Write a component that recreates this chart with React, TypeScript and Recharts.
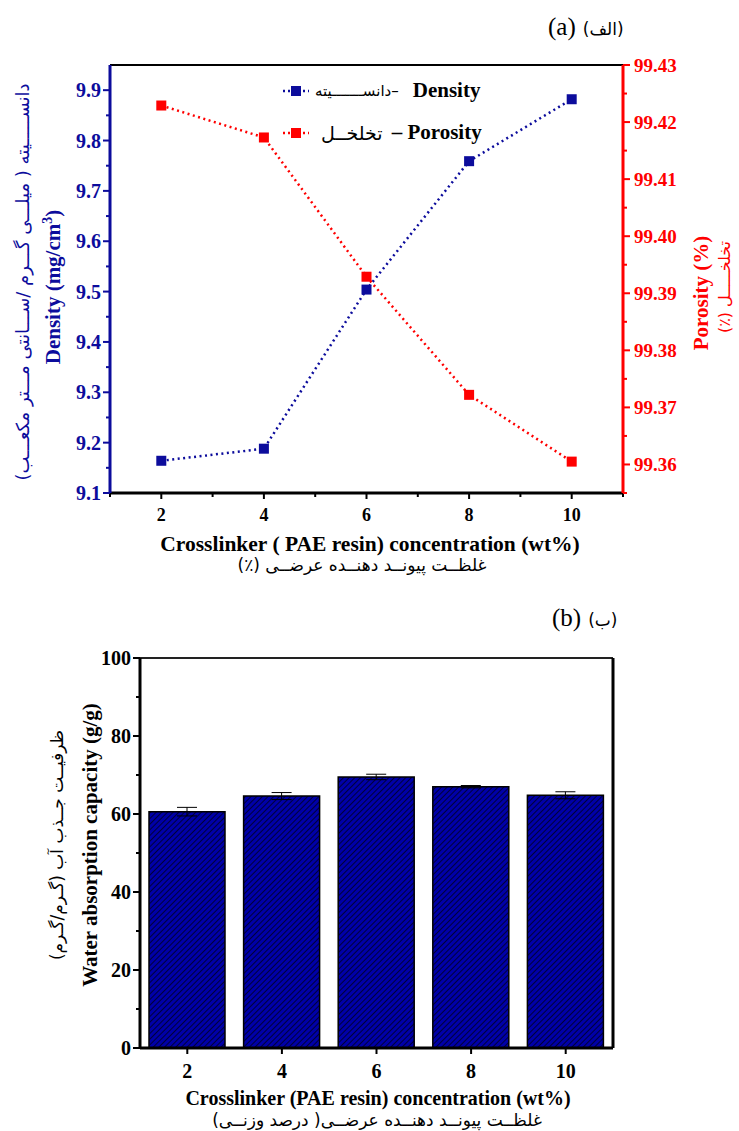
import React from "react";
import {
  Bar,
  BarChart,
  ComposedChart,
  ErrorBar,
  Line,
  ReferenceLine,
  XAxis,
  YAxis,
} from "recharts";

// crosslinker (PAE resin) concentration, wt%
const crosslinker = [2, 4, 6, 8, 10];
const density = [9.164, 9.188, 9.504, 9.759, 9.882];
const porosity = [99.4229, 99.4173, 99.3929, 99.3722, 99.3605];
const waterAbsorption = [60.6, 64.6, 69.5, 67.0, 64.8];
const waterError = [1.1, 0.9, 0.7, 0.3, 0.9];

const xMajor = [2, 4, 6, 8, 10];
const xTicks = [1, 2, 3, 4, 5, 6, 7, 8, 9, 10, 11];
const densityMajor = [9.1, 9.2, 9.3, 9.4, 9.5, 9.6, 9.7, 9.8, 9.9];
const densityTicks = [9.1, 9.15, 9.2, 9.25, 9.3, 9.35, 9.4, 9.45, 9.5, 9.55, 9.6, 9.65, 9.7, 9.75, 9.8, 9.85, 9.9];
const porosityMajor = [99.36, 99.37, 99.38, 99.39, 99.4, 99.41, 99.42, 99.43];
const porosityTicks = [
  99.355, 99.36, 99.365, 99.37, 99.375, 99.38, 99.385, 99.39, 99.395, 99.4, 99.405, 99.41, 99.415, 99.42,
  99.425, 99.43,
];
const waterMajor = [0, 20, 40, 60, 80, 100];
const waterTicks = [0, 10, 20, 30, 40, 50, 60, 70, 80, 90, 100];

const BLUE = "#0c0c9c";
const RED = "#ff0000";
const SERIF = '"Liberation Serif", "DejaVu Sans", serif';
const PERSIAN = '"DejaVu Sans", "Liberation Serif", serif';

const lineData = crosslinker.map((x, i) => ({ x, density: density[i], porosity: porosity[i] }));
const barData = crosslinker.map((x, i) => ({ label: String(x), value: waterAbsorption[i], err: waterError[i] }));

type TickOpts = {
  side: "left" | "right" | "bottom";
  major: (number | string)[] | null;
  color: string;
  fontSize: number;
  format?: (v: number) => string;
  majorLen?: number;
  minorLen?: number;
  gap?: number;
};

const makeTick = (o: TickOpts) => (props: any) => {
  const { x, y, payload } = props;
  const isMajor = o.major === null || o.major.includes(payload.value);
  const len = isMajor ? o.majorLen ?? 7 : o.minorLen ?? 4;
  const gap = o.gap ?? 5;
  const text = isMajor ? (o.format ? o.format(payload.value) : String(payload.value)) : "";
  const common = { fill: o.color, fontSize: o.fontSize, fontWeight: 700, fontFamily: SERIF };
  if (o.side === "left") {
    return (
      <g>
        <line x1={x} x2={x - len} y1={y} y2={y} stroke={o.color} strokeWidth={2} />
        {text && (
          <text x={x - (o.majorLen ?? 7) - gap} y={y} dy="0.35em" textAnchor="end" {...common}>
            {text}
          </text>
        )}
      </g>
    );
  }
  if (o.side === "right") {
    return (
      <g>
        <line x1={x} x2={x + len} y1={y} y2={y} stroke={o.color} strokeWidth={2} />
        {text && (
          <text x={x + (o.majorLen ?? 7) + gap} y={y} dy="0.35em" textAnchor="start" {...common}>
            {text}
          </text>
        )}
      </g>
    );
  }
  return (
    <g>
      <line x1={x} x2={x} y1={y} y2={y + len} stroke={o.color} strokeWidth={2} />
      {text && (
        <text x={x} y={y + (o.majorLen ?? 7) + gap} dy="0.8em" textAnchor="middle" {...common}>
          {text}
        </text>
      )}
    </g>
  );
};

const squareDot = (color: string) => (props: any) => {
  const { cx, cy, index } = props;
  if (cx == null || cy == null) return <g key={index} />;
  return <rect key={index} x={cx - 5} y={cy - 5} width={10} height={10} fill={color} />;
};

const abs = (left: number, top: number, extra: React.CSSProperties = {}): React.CSSProperties => ({
  position: "absolute",
  left,
  top,
  whiteSpace: "nowrap",
  ...extra,
});

type TextProps = { cx: number; cy: number; children: React.ReactNode; style: React.CSSProperties; rtl?: boolean };

const Rotated = ({ cx, cy, children, style, rtl }: TextProps) => (
  <div dir={rtl ? "rtl" : "ltr"} style={abs(cx, cy, { transform: "translate(-50%, -50%) rotate(-90deg)", ...style })}>
    {children}
  </div>
);

const Centered = ({ cx, cy, children, style, rtl }: TextProps) => (
  <div dir={rtl ? "rtl" : "ltr"} style={abs(cx, cy, { transform: "translate(-50%, -50%)", ...style })}>
    {children}
  </div>
);

const LegendSwatch = ({ color }: { color: string }) => (
  <svg width={30} height={12} style={{ display: "block" }}>
    <line x1={2} x2={28} y1={6} y2={6} stroke={color} strokeWidth={2.5} strokeDasharray="2 3" />
    <rect x={10} y={1} width={10} height={10} fill={color} />
  </svg>
);

export default function App() {
  return (
    <div style={{ position: "absolute", left: 0, top: 0, width: 739, height: 1131, background: "#fff" }}>
      <svg width={0} height={0} style={{ position: "absolute" }}>
        <defs>
          <pattern id="hatch" patternUnits="userSpaceOnUse" width={4} height={4} patternTransform="rotate(45)">
            <rect width={4} height={4} fill="#0000a8" />
            <line x1={0} y1={0} x2={0} y2={4} stroke="#000" strokeWidth={1.3} />
          </pattern>
        </defs>
      </svg>

      {/* (a) density / porosity */}
      <div style={abs(0, 0)}>
        <ComposedChart width={739} height={600} data={lineData} margin={{ top: 65, right: 0, bottom: 0, left: 0 }}>
          <XAxis
            dataKey="x"
            type="number"
            domain={[1, 11]}
            ticks={xTicks}
            interval={0}
            height={107}
            tickSize={0}
            tickMargin={0}
            tickLine={false}
            axisLine={{ stroke: "#000", strokeWidth: 3 }}
            tick={makeTick({ side: "bottom", major: xMajor, color: "#000", fontSize: 18, majorLen: 6, minorLen: 4, gap: 8 })}
          />
          <YAxis
            yAxisId="left"
            type="number"
            domain={[9.1, 9.95]}
            ticks={densityTicks}
            interval={0}
            width={110}
            tickSize={0}
            tickMargin={0}
            tickLine={false}
            axisLine={{ stroke: BLUE, strokeWidth: 3 }}
            tick={makeTick({ side: "left", major: densityMajor, color: BLUE, fontSize: 20, format: (v) => v.toFixed(1), gap: 2 })}
          />
          <YAxis
            yAxisId="right"
            orientation="right"
            type="number"
            domain={[99.355, 99.43]}
            ticks={porosityTicks}
            interval={0}
            width={116}
            tickSize={0}
            tickMargin={0}
            tickLine={false}
            axisLine={{ stroke: RED, strokeWidth: 3 }}
            tick={makeTick({ side: "right", major: porosityMajor, color: RED, fontSize: 19, format: (v) => v.toFixed(2), gap: 4 })}
          />
          <ReferenceLine yAxisId="left" y={9.95} stroke="#000" strokeWidth={2} />
          <Line
            yAxisId="left"
            dataKey="density"
            type="linear"
            stroke={BLUE}
            strokeWidth={2.5}
            strokeDasharray="2 3.5"
            dot={squareDot(BLUE)}
            activeDot={false}
            isAnimationActive={false}
          />
          <Line
            yAxisId="right"
            dataKey="porosity"
            type="linear"
            stroke={RED}
            strokeWidth={2.5}
            strokeDasharray="2 3.5"
            dot={squareDot(RED)}
            activeDot={false}
            isAnimationActive={false}
          />
        </ComposedChart>
      </div>

      {/* (b) water absorption */}
      <div style={abs(0, 600)}>
        <BarChart width={739} height={500} data={barData} margin={{ top: 58, right: 0, bottom: 0, left: 0 }}>
          <XAxis
            dataKey="label"
            interval={0}
            height={52}
            tickSize={0}
            tickMargin={0}
            tickLine={false}
            axisLine={{ stroke: "#000", strokeWidth: 3 }}
            tick={makeTick({ side: "bottom", major: null, color: "#000", fontSize: 20, majorLen: 6, gap: 8 })}
          />
          <YAxis
            yAxisId="w"
            type="number"
            domain={[0, 100]}
            ticks={waterTicks}
            interval={0}
            width={140}
            tickSize={0}
            tickMargin={0}
            tickLine={false}
            axisLine={{ stroke: "#000", strokeWidth: 3 }}
            tick={makeTick({ side: "left", major: waterMajor, color: "#000", fontSize: 20, gap: 2 })}
          />
          <YAxis
            yAxisId="border"
            orientation="right"
            type="number"
            domain={[0, 100]}
            width={126}
            tick={false}
            tickLine={false}
            axisLine={{ stroke: "#000", strokeWidth: 3 }}
          />
          <ReferenceLine yAxisId="w" y={100} stroke="#222" strokeWidth={2} />
          <Bar yAxisId="w" dataKey="value" fill="url(#hatch)" stroke="#000" strokeWidth={1.5} barSize={76} isAnimationActive={false}>
            <ErrorBar dataKey="err" width={10} stroke="#000" strokeWidth={1} direction="y" />
          </Bar>
        </BarChart>
      </div>

      {/* panel labels */}
      <div style={abs(548, 13, { display: "flex", alignItems: "baseline", gap: 7, fontFamily: SERIF, color: "#000" })}>
        <span style={{ fontSize: 25 }}>(a)</span>
        <span dir="rtl" style={{ fontSize: 17, fontFamily: PERSIAN }}>(الف)</span>
      </div>
      <div style={abs(552, 604, { display: "flex", alignItems: "baseline", gap: 7, fontFamily: SERIF, color: "#000" })}>
        <span style={{ fontSize: 25 }}>(b)</span>
        <span dir="rtl" style={{ fontSize: 17, fontFamily: PERSIAN }}>(ب)</span>
      </div>

      {/* legend */}
      <div style={abs(281, 78, { display: "flex", alignItems: "center", gap: 4, fontFamily: SERIF })}>
        <LegendSwatch color={BLUE} />
        <span style={{ fontFamily: PERSIAN, fontSize: 15 }}>دانســـــــیته–</span>
        <b style={{ fontSize: 21, marginLeft: 10 }}>Density</b>
      </div>
      <div style={abs(281, 120, { display: "flex", alignItems: "center", gap: 4, fontFamily: SERIF })}>
        <LegendSwatch color={RED} />
        <span style={{ fontFamily: PERSIAN, fontSize: 19, marginLeft: 6 }}>تخلخــل</span>
        <b style={{ fontSize: 21, marginLeft: 5 }}>– Porosity</b>
      </div>

      {/* axis titles (a) */}
      <Rotated rtl cx={22} cy={282} style={{ fontFamily: PERSIAN, fontSize: 18, color: BLUE }}>
        دانســـــیته ( میلـــی گـــرم /ســـانتی مـــتر مکعـــب)
      </Rotated>
      <Rotated cx={53} cy={287} style={{ fontFamily: SERIF, fontSize: 21, fontWeight: 700, color: BLUE }}>
        Density (mg/cm<sup style={{ fontSize: 14 }}>3</sup>)
      </Rotated>
      <Rotated cx={701} cy={293} style={{ fontFamily: SERIF, fontSize: 21, fontWeight: 700, color: RED }}>
        Porosity (%)
      </Rotated>
      <Rotated rtl cx={724} cy={287} style={{ fontFamily: PERSIAN, fontSize: 16, color: RED }}>
        تخلخـــــل (٪)
      </Rotated>
      <Centered cx={370} cy={544} style={{ fontFamily: SERIF, fontSize: 21.5, fontWeight: 700 }}>
        Crosslinker ( PAE resin) concentration (wt%)
      </Centered>
      <Centered rtl cx={362} cy={565} style={{ fontFamily: PERSIAN, fontSize: 17 }}>
        غلظــت پیونــد دهنــده عرضــی (٪)
      </Centered>

      {/* axis titles (b) */}
      <Rotated rtl cx={57} cy={845} style={{ fontFamily: PERSIAN, fontSize: 17 }}>
        ظرفیــت جــذب آب (گـرم/گـرم)
      </Rotated>
      <Rotated cx={90} cy={845} style={{ fontFamily: SERIF, fontSize: 21, fontWeight: 700 }}>
        Water absorption capacity (g/g)
      </Rotated>
      <Centered cx={378} cy={1098} style={{ fontFamily: SERIF, fontSize: 20, fontWeight: 700 }}>
        Crosslinker (PAE resin) concentration (wt%)
      </Centered>
      <Centered rtl cx={377} cy={1120} style={{ fontFamily: PERSIAN, fontSize: 17 }}>
        غلظــت پیونــد دهنــده عرضــی( درصد وزنــی)
      </Centered>
    </div>
  );
}
